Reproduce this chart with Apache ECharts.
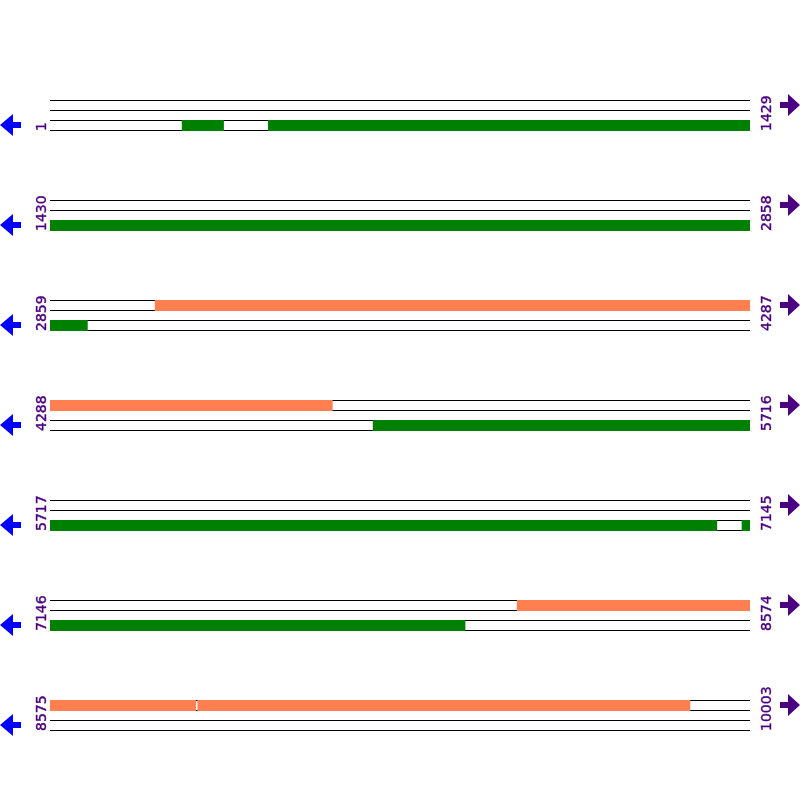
<!DOCTYPE html>
<html>
<head>
<meta charset="utf-8">
<script src="https://cdn.jsdelivr.net/npm/echarts@6/dist/echarts.min.js"></script>
<style>html,body{margin:0;padding:0;background:#fff}#c{width:800px;height:800px}</style>
</head>
<body>
<div id="c"></div>
<script>
// Row ranges (bp)
const rowStarts = [1, 1430, 2859, 4288, 5717, 7146, 8575];
const rowEnds   = [1429, 2858, 4287, 5716, 7145, 8574, 10003];
const bpPerRow = 1429;
// Forward-strand ORFs (top track, coral)
const fwdStart = [3073, 8099, 8876];
const fwdEnd   = [4864, 8872, 9881];
// Reverse-strand ORFs (bottom track, green)
const revStart = [270, 446, 4947, 7129];
const revEnd   = [355, 2935, 7078, 7993];

const TRACK_OFF = [0, 0.1, 0.2, 0.3];
const FWD_COLOR = '#FF7F50', REV_COLOR = '#008000';
const TEXT_COLOR = '#4B0082', LEFT_ARROW = '#0000FF';

function splitOrfs(starts, ends, track) {
  const out = [];
  for (let i = 0; i < starts.length; i++) {
    for (let r = 0; r < rowStarts.length; r++) {
      const s = Math.max(starts[i], rowStarts[r]);
      const e = Math.min(ends[i], rowEnds[r]);
      if (s <= e) out.push([r, s - rowStarts[r], e - rowStarts[r] + 1, track]);
    }
  }
  return out;
}
const barData = splitOrfs(fwdStart, fwdEnd, 0).concat(splitOrfs(revStart, revEnd, 2));
const rowData = rowStarts.map((s, i) => [i, s, rowEnds[i]]);

const chart = echarts.init(document.getElementById('c'), null, {renderer: 'canvas'});
chart.setOption({
  animation: false,
  backgroundColor: '#fff',
  grid: {left: 50, right: 50, top: 0, bottom: 0},
  xAxis: {type: 'value', min: 0, max: bpPerRow, show: false},
  yAxis: {type: 'value', min: 0, max: 8, inverse: true, show: false},
  series: [
    { // track lines
      type: 'custom', data: rowData, silent: true,
      renderItem: function (params, api) {
        const row = api.value(0) + 1;
        const children = TRACK_OFF.map(o => {
          const a = api.coord([0, row + o]);
          const b = api.coord([bpPerRow, row + o]);
          const y = Math.round(a[1]) + 0.5;
          return {type: 'line', shape: {x1: a[0], y1: y, x2: b[0], y2: y},
                  style: {stroke: '#000', lineWidth: 1}};
        });
        return {type: 'group', children: children};
      }
    },
    { // ORF bars
      type: 'custom', data: barData, silent: true,
      renderItem: function (params, api) {
        const row = api.value(0) + 1;
        const tr = api.value(3);
        const a = api.coord([api.value(1), row + TRACK_OFF[tr]]);
        const b = api.coord([api.value(2), row + TRACK_OFF[tr]]);
        const h = api.size([0, 0.1])[1] + 1;
        return {type: 'rect', shape: {x: a[0], y: Math.round(a[1]), width: b[0] - a[0], height: h},
                style: {fill: tr === 0 ? FWD_COLOR : REV_COLOR}};
      }
    },
    { // labels and arrows
      type: 'custom', data: rowData, silent: true,
      renderItem: function (params, api) {
        const row = api.value(0) + 1;
        const L = api.coord([0, row]);
        const R = api.coord([bpPerRow, row]);
        const y0 = Math.round(L[1]);
        const lx = L[0] - 50;
        const cL = y0 + 25;
        const rx = R[0] + 30;
        const cR = y0 + 5;
        const font = '14px "DejaVu Sans"';
        return {type: 'group', children: [
          {type: 'text', x: L[0] - 1, y: y0 + 31, rotation: Math.PI / 2,
           style: {text: String(api.value(1)), x: 0, y: 0, fill: TEXT_COLOR, font: font,
                   align: 'left', verticalAlign: 'bottom', stroke: TEXT_COLOR, lineWidth: 0.4}},
          {type: 'text', x: R[0] + 24, y: y0 + 31, rotation: Math.PI / 2,
           style: {text: String(api.value(2)), x: 0, y: 0, fill: TEXT_COLOR, font: font,
                   align: 'left', verticalAlign: 'bottom', stroke: TEXT_COLOR, lineWidth: 0.4}},
          {type: 'polygon', shape: {points: [
             [lx, cL], [lx + 13, cL - 11], [lx + 13, cL - 3], [lx + 21, cL - 3],
             [lx + 21, cL + 3], [lx + 13, cL + 3], [lx + 13, cL + 11]]},
           style: {fill: LEFT_ARROW}},
          {type: 'polygon', shape: {points: [
             [rx + 20, cR], [rx + 8, cR - 11], [rx + 8, cR - 3], [rx, cR - 3],
             [rx, cR + 3], [rx + 8, cR + 3], [rx + 8, cR + 11]]},
           style: {fill: TEXT_COLOR}}
        ]};
      }
    }
  ]
});
</script>
</body>
</html>
